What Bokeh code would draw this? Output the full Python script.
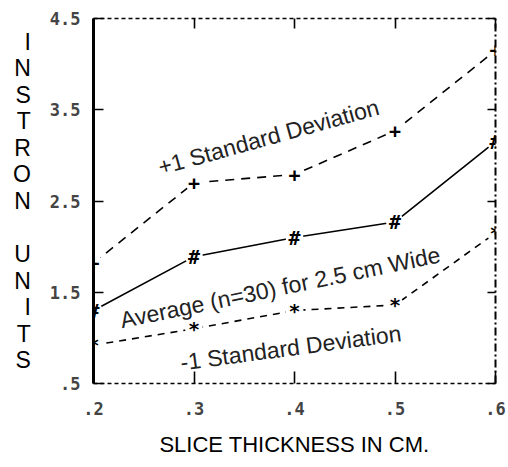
from bokeh.plotting import figure
from bokeh.models import Range1d, LinearAxis, FixedTicker, Label
from bokeh.core.properties import value
from bokeh.embed import file_html
from bokeh.resources import INLINE

# ---- data ----
thickness = [0.2, 0.3, 0.4, 0.5, 0.6]
plus_sd = [1.82, 2.70, 2.79, 3.27, 4.15]
average = [1.30, 1.89, 2.10, 2.27, 3.15]
minus_sd = [0.92, 1.10, 1.30, 1.36, 2.15]

x_ticks = [0.2, 0.3, 0.4, 0.5, 0.6]
x_tick_labels = [".2", ".3", ".4", ".5", ".6"]
y_ticks = [0.5, 1.5, 2.5, 3.5, 4.5]
y_tick_labels = [".5", "1.5", "2.5", "3.5", "4.5"]

x_title = "SLICE THICKNESS IN CM."
y_title_top = "INSTRON"
y_title_bottom = "UNITS"
label_plus = "+1  Standard Deviation"
label_avg = "Average (n=30) for 2.5 cm Wide"
label_minus = "-1  Standard Deviation"

# ---- layout ----
W, H = 508, 467
FL, FR, FT, FB = 93, 495, 18, 383

def px_x(px):
    return 0.2 + (px - FL) * 0.4 / (FR - FL)

def px_y(py):
    return 0.5 + (FB - py) * 4.0 / (FB - FT)

p = figure(width=W, height=H, output_backend="svg", toolbar_location=None,
           x_range=Range1d(0.2, 0.6), y_range=Range1d(0.5, 4.5),
           min_border_left=FL, min_border_right=W - FR,
           min_border_top=FT, min_border_bottom=H - FB)
p.grid.visible = False
p.outline_line_color = None
p.background_fill_color = "white"
p.border_fill_color = "white"

tick_font = "DejaVu Sans Mono"

xa = p.xaxis[0]
xa.ticker = FixedTicker(ticks=x_ticks)
xa.major_label_overrides = {t: l for t, l in zip(x_ticks, x_tick_labels)}
xa.axis_line_dash = "4 3"
xa.axis_line_width = 1.6
xa.major_tick_in = 12
xa.major_tick_out = 0
xa.major_tick_line_width = 1.6
xa.minor_tick_line_color = None
xa.major_label_text_font = tick_font
xa.major_label_text_font_style = "bold"
xa.major_label_text_font_size = "17px"
xa.major_label_standoff = 18
xa.axis_label = x_title
xa.axis_label_text_font = "Liberation Sans"
xa.axis_label_text_font_style = "normal"
xa.axis_label_text_font_size = "22px"
xa.axis_label_text_color = "black"
xa.axis_label_standoff = 14

ya = p.yaxis[0]
ya.ticker = FixedTicker(ticks=y_ticks)
ya.major_label_overrides = {t: l for t, l in zip(y_ticks, y_tick_labels)}
ya.axis_line_width = 3
ya.major_tick_in = 10
ya.major_tick_out = 0
ya.major_tick_line_width = 1.6
ya.minor_tick_line_color = None
ya.major_label_text_font = tick_font
ya.major_label_text_font_style = "bold"
ya.major_label_text_font_size = "17px"
ya.major_label_standoff = 13
ya.axis_label = "\n".join(list(y_title_top) + [""] + list(y_title_bottom))
ya.axis_label_orientation = "horizontal"
ya.axis_label_text_font = "Liberation Sans"
ya.axis_label_text_font_style = "normal"
ya.axis_label_text_font_size = "23px"
ya.axis_label_text_line_height = 1.02
ya.axis_label_text_color = "black"
ya.axis_label_text_align = "center"
ya.axis_label_standoff = 16

top = LinearAxis(ticker=FixedTicker(ticks=x_ticks), axis_line_dash="4 3",
                 axis_line_width=1.6, major_tick_in=10, major_tick_out=0,
                 major_tick_line_width=1.6, minor_tick_line_color=None,
                 major_label_overrides={t: "" for t in x_ticks},
                 major_label_standoff=0)
p.add_layout(top, "above")
right = LinearAxis(ticker=FixedTicker(ticks=y_ticks), axis_line_dash="8 3 2 3",
                   axis_line_width=2, major_tick_in=8, major_tick_out=0,
                   major_tick_line_width=1.6, minor_tick_line_color=None,
                   major_label_overrides={t: "" for t in y_ticks},
                   major_label_standoff=0)
p.add_layout(right, "right")

# ---- series ----
p.line(thickness, plus_sd, line_color="black", line_width=1.6, line_dash="9 7")
p.line(thickness, average, line_color="black", line_width=1.6)
p.line(thickness, minus_sd, line_color="black", line_width=1.6, line_dash="7 6")

for ys in (plus_sd, average, minus_sd):
    p.scatter(thickness, ys, size=18, fill_color="white", line_color=None)

mk = dict(text_font=value(tick_font), text_font_style="bold", text_font_size="20px",
          text_align="center", text_baseline="middle", text_color="black")
p.text(thickness, plus_sd, text=["+"] * len(thickness), **mk)
p.text(thickness, average, text=["#"] * len(thickness), **mk)
p.text(thickness, minus_sd, text=["*"] * len(thickness), **mk)

lab = dict(text_font="Liberation Sans", text_font_size="23px", text_color="#222222",
           text_baseline="alphabetic", text_align="left", angle_units="deg")
p.add_layout(Label(x=px_x(158), y=px_y(167), text=label_plus, angle=15.5, **lab))
p.add_layout(Label(x=px_x(120), y=px_y(320), text=label_avg, angle=11.7, **lab))
p.add_layout(Label(x=px_x(180), y=px_y(362), text=label_minus, angle=7.6, **lab))

open("out.html", "w").write(file_html(p, INLINE))
